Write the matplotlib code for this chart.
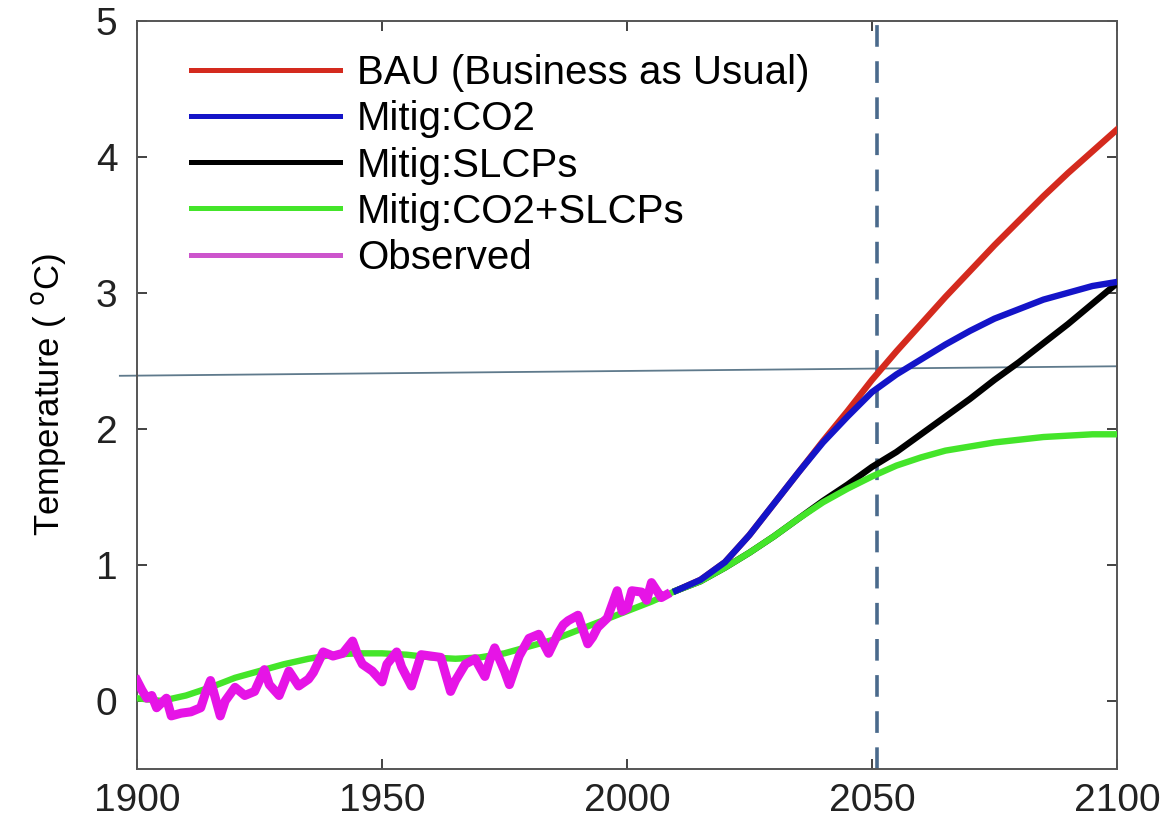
import matplotlib.pyplot as plt

plt.rcParams['font.family'] = ['Liberation Sans', 'DejaVu Sans']

# model scenarios (deg C)
years_model = [1900, 1905, 1910, 1915, 1920, 1925, 1930, 1935, 1940, 1945,
               1950, 1955, 1960, 1965, 1970, 1975, 1980, 1985, 1990, 1995,
               2000, 2005, 2010]
hist_model = [0.02, 0.0, 0.04, 0.10, 0.17, 0.22, 0.27, 0.31, 0.34, 0.35,
              0.35, 0.34, 0.32, 0.31, 0.32, 0.35, 0.40, 0.45, 0.52, 0.59,
              0.66, 0.73, 0.81]

years_fut = [2010, 2015, 2020, 2025, 2030, 2035, 2040, 2045, 2050, 2055,
             2060, 2065, 2070, 2075, 2080, 2085, 2090, 2095, 2100]
bau = [0.81, 0.89, 1.02, 1.22, 1.45, 1.68, 1.91, 2.13, 2.36, 2.57,
       2.77, 2.97, 3.16, 3.35, 3.53, 3.71, 3.88, 4.04, 4.20]
mitig_co2 = [0.81, 0.89, 1.02, 1.22, 1.45, 1.68, 1.90, 2.09, 2.27, 2.40,
             2.51, 2.62, 2.72, 2.81, 2.88, 2.95, 3.00, 3.05, 3.08]
mitig_slcp = [0.81, 0.88, 0.98, 1.09, 1.21, 1.34, 1.47, 1.59, 1.72, 1.83,
              1.96, 2.09, 2.22, 2.36, 2.49, 2.63, 2.77, 2.92, 3.07]
mitig_both = [0.81, 0.88, 0.98, 1.09, 1.21, 1.34, 1.46, 1.56, 1.65, 1.73,
              1.79, 1.84, 1.87, 1.90, 1.92, 1.94, 1.95, 1.96, 1.96]

# observed record
years_obs = [1900, 1901, 1902, 1903, 1904, 1906, 1907, 1909, 1911, 1913,
             1914, 1915, 1917, 1918, 1920, 1922, 1924, 1926, 1927, 1929,
             1931, 1933, 1935, 1936, 1938, 1940, 1942, 1944, 1945, 1946,
             1948, 1950, 1951, 1953, 1954, 1956, 1958, 1960, 1962, 1964,
             1965, 1967, 1969, 1971, 1972, 1973, 1975, 1976, 1978, 1980,
             1982, 1984, 1986, 1987, 1988, 1990, 1992, 1993, 1994, 1996,
             1998, 1999, 2000, 2001, 2003, 2004, 2005, 2007, 2008]
observed = [0.15, 0.08, 0.02, 0.04, -0.05, 0.02, -0.11, -0.09, -0.08, -0.05,
            0.06, 0.15, -0.11, 0.0, 0.10, 0.04, 0.07, 0.23, 0.12, 0.04,
            0.22, 0.11, 0.16, 0.21, 0.36, 0.33, 0.35, 0.44, 0.34, 0.27,
            0.22, 0.14, 0.27, 0.36, 0.25, 0.11, 0.34, 0.33, 0.32, 0.07,
            0.15, 0.27, 0.31, 0.18, 0.30, 0.39, 0.22, 0.12, 0.33, 0.46,
            0.49, 0.35, 0.50, 0.56, 0.59, 0.63, 0.42, 0.47, 0.54, 0.61,
            0.81, 0.66, 0.68, 0.81, 0.80, 0.74, 0.87, 0.76, 0.78]

threshold_x = [1896.5, 2100]
threshold_y = [2.39, 2.46]
marker_year = 2051

fig = plt.figure(figsize=(11.76, 8.19), dpi=100)
ax = fig.add_axes([0.1165, 0.0611, 0.8333, 0.9136])

c_red = '#d42a1e'
c_blue = '#1414c8'
c_green = '#44e52a'
c_mag = '#e614e6'
lw = 4.6

ax.plot(threshold_x, threshold_y, color='#5f7a8c', lw=1.3, clip_on=False, zorder=1)
ax.axvline(marker_year, color='#4a6a8c', lw=2.6, ls=(0, (6, 4)), zorder=1)

ax.plot(years_fut, bau, color=c_red, lw=lw, zorder=3)
ax.plot(years_fut, mitig_co2, color=c_blue, lw=lw, zorder=4)
ax.plot(years_fut, mitig_slcp, color='black', lw=lw, zorder=3)
ax.plot(years_model, hist_model, color=c_green, lw=lw, zorder=3)
ax.plot(years_fut, mitig_both, color=c_green, lw=lw, zorder=3)
ax.plot(years_obs, observed, color=c_mag, lw=6.5, zorder=5)

# legend proxies (thinner lines like the original)
handles = [
    plt.Line2D([], [], color=c_red, lw=3.6),
    plt.Line2D([], [], color=c_blue, lw=3.6),
    plt.Line2D([], [], color='black', lw=3.6),
    plt.Line2D([], [], color=c_green, lw=3.6),
    plt.Line2D([], [], color='#cc55cc', lw=3.6),
]
labels = ['BAU (Business as Usual)', 'Mitig:CO2', 'Mitig:SLCPs',
          'Mitig:CO2+SLCPs', 'Observed']
ax.legend(handles, labels, loc='upper left', bbox_to_anchor=(0.055, 0.955),
          frameon=False, fontsize=29, handlelength=3.7, handletextpad=0.42,
          labelspacing=0.2, borderpad=0, borderaxespad=0)

ax.set_xlim(1900, 2100)
ax.set_ylim(-0.5, 5)
ax.set_xticks([1900, 1950, 2000, 2050, 2100])
ax.set_yticks([0, 1, 2, 3, 4, 5])
ax.tick_params(direction='in', length=7, width=1.2, top=True, right=True,
               labelsize=28, pad=10, colors='#222222')
ax.tick_params(axis='y', pad=14)
for s in ax.spines.values():
    s.set_color('#555555')
    s.set_linewidth(1.4)

ax.set_ylabel(r'Temperature ( $^{\rm o}$C)', fontsize=25, labelpad=20)

plt.savefig('out.png', dpi=100)
